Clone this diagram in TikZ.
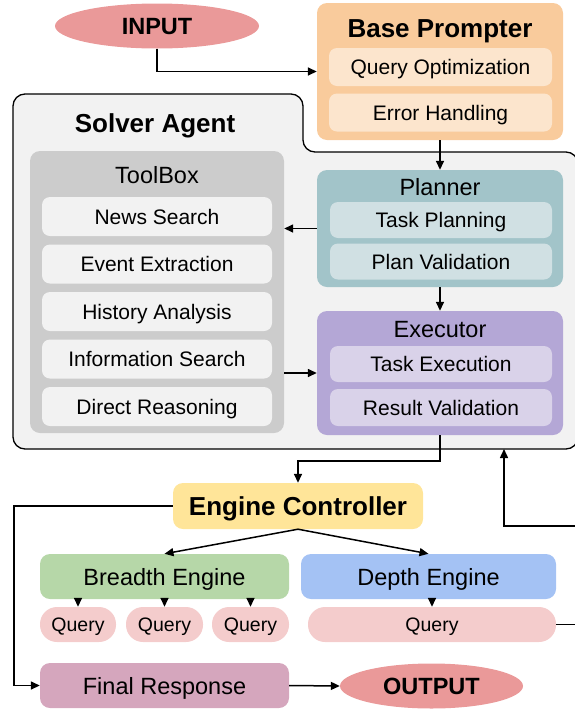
\documentclass[tikz,border=0pt]{standalone}
\usepackage{fontspec}
\setmainfont{Liberation Sans}
\usepackage{xcolor}
\usetikzlibrary{shapes.geometric,arrows.meta}

\definecolor{ioRed}{HTML}{EA9999}
\definecolor{bpOrange}{HTML}{F9CB9C}
\definecolor{bpLight}{HTML}{FCE5CD}
\definecolor{saGray}{HTML}{F2F2F2}
\definecolor{tbGray}{HTML}{CCCCCC}
\definecolor{plTeal}{HTML}{A2C4C9}
\definecolor{plLight}{HTML}{D0E0E3}
\definecolor{exPurple}{HTML}{B4A7D6}
\definecolor{exLight}{HTML}{D9D2E9}
\definecolor{ecYellow}{HTML}{FFE599}
\definecolor{brGreen}{HTML}{B6D7A8}
\definecolor{deBlue}{HTML}{A4C2F4}
\definecolor{qPink}{HTML}{F4CCCC}
\definecolor{frMauve}{HTML}{D5A6BD}

\tikzset{
  itemfont/.style={font=\fontsize{21}{24}\selectfont, text height=15pt, text depth=0pt},
  subfont/.style={font=\fontsize{23.5}{27}\selectfont, text height=17pt, text depth=0pt},
  headfont/.style={font=\fontsize{26}{30}\selectfont\bfseries, text height=19pt, text depth=0pt},
  panel/.style={rectangle, rounded corners=10pt, inner sep=0pt},
  item/.style={rectangle, rounded corners=8pt, inner sep=0pt, minimum height=38pt, itemfont},
  tool/.style={item, fill=saGray, minimum width=230pt, minimum height=39pt},
  subtitle/.style={inner sep=0pt, subfont},
  heading/.style={inner sep=0pt, headfont},
  query/.style={rectangle, rounded corners=17pt, inner sep=0pt, fill=qPink,
    minimum height=35pt, font=\fontsize{19.5}{22}\selectfont, text height=14pt, text depth=0pt},
  oval/.style={ellipse, inner sep=0pt, fill=ioRed, minimum height=45pt,
    font=\fontsize{23.5}{27}\selectfont\bfseries, text height=17pt, text depth=0pt},
  arr/.style={-{Triangle[length=9pt,width=8pt]}, line width=1.5pt}
}

\begin{document}
\begin{tikzpicture}[x=1pt,y=-1pt]

\useasboundingbox (0,0) rectangle (574,710);

\draw[line width=1.3pt, fill=saGray] (303,130) [rounded corners=12pt] -- (303,94) -- (13,94)
  -- (13,449) -- (578,449) -- (578,152) -- (303,152) [sharp corners] -- cycle;
\node[heading] (satitle) at (155,123) {Solver Agent};
\coordinate (sabot) at (504,449);


\node[oval, minimum width=204pt] (input) at (157,26) {INPUT};

\node[panel, fill=bpOrange, minimum width=246pt, minimum height=137pt] (prompter) at (440,71.5) {};
\node[heading] (bptitle) at (440,28) {Base Prompter};
\node[item, fill=bpLight, minimum width=223pt] (qopt) at (440.5,67) {Query Optimization};
\node[item, fill=bpLight, minimum width=223pt] (errh) at (440.5,112.5) {Error Handling};


\node[panel, fill=tbGray, minimum width=254pt, minimum height=282pt] (toolbox) at (157,292) {};
\node[subtitle] (tbtitle) at (157,175) {ToolBox};
\node[tool] (news) at (157,216.5) {News Search};
\node[tool] (event) at (157,264) {Event Extraction};
\node[tool] (history) at (157,311.5) {History Analysis};
\node[tool] (info) at (157,359) {Information Search};
\node[tool] (direct) at (157,406.5) {Direct Reasoning};


\node[panel, fill=plTeal, minimum width=246pt, minimum height=117pt] (planner) at (440,228.5) {};
\node[subtitle] (pltitle) at (440,187) {Planner};
\node[item, fill=plLight, minimum width=222pt, minimum height=36pt] (tplan) at (441,220) {Task Planning};
\node[item, fill=plLight, minimum width=222pt, minimum height=36pt] (pval) at (441,261.5) {Plan Validation};

\node[panel, fill=exPurple, minimum width=246pt, minimum height=124pt] (executor) at (440,373) {};
\node[subtitle] (extitle) at (440,329) {Executor};
\node[item, fill=exLight, minimum width=222pt, minimum height=36pt] (texec) at (441,364) {Task Execution};
\node[item, fill=exLight, minimum width=222pt, minimum height=37pt] (rval) at (441,407.5) {Result Validation};


\node[panel, fill=ecYellow, minimum width=250pt, minimum height=46pt, headfont] (engine) at (298,506) {Engine Controller};

\node[panel, fill=brGreen, minimum width=249pt, minimum height=45pt, subfont] (breadth) at (164.5,576.5) {Breadth Engine};
\node[panel, fill=deBlue, minimum width=255pt, minimum height=45pt, subfont] (depth) at (428.5,576.5) {Depth Engine};

\node[query, minimum width=76pt] (qa) at (78,624.5) {Query};
\node[query, minimum width=77pt] (qb) at (164.5,624.5) {Query};
\node[query, minimum width=77pt] (qc) at (250.5,624.5) {Query};
\node[query, minimum width=248pt] (qd) at (432,624.5) {Query};

\node[panel, fill=frMauve, minimum width=249pt, minimum height=45pt, subfont] (final) at (164.5,685.5) {Final Response};
\node[oval, minimum width=183pt] (output) at (431.5,686) {OUTPUT};

\coordinate (fbturn) at (504,526);


\draw[arr] (input.south) |- (prompter.west);
\draw[arr] (prompter.south) -- (planner.north);
\draw[arr] (planner.west) -- (planner.west -| toolbox.east);
\draw[arr] (planner.south) -- (executor.north);
\draw[arr] (executor.west -| toolbox.east) -- (executor.west);
\draw[arr] (executor.south) -- ++(0,26) -| (engine.north);

\draw[arr] (engine.west) -- ++(-159,0) |- (final.west);
\draw[arr] (engine.south) -- (breadth.north);
\draw[arr] (engine.south) -- (depth.north);

\draw[arr] (qa.north |- breadth.south) -- (qa.north);
\draw[arr] (qb.north |- breadth.south) -- (qb.north);
\draw[arr] (qc.north |- breadth.south) -- (qc.north);
\draw[arr] (qd.north |- depth.south) -- (qd.north);

\draw[arr] (qd.east) -- ++(40,0) |- (fbturn) -- (sabot);
\draw[arr] (final.east) -- (output.west);

\end{tikzpicture}
\end{document}
